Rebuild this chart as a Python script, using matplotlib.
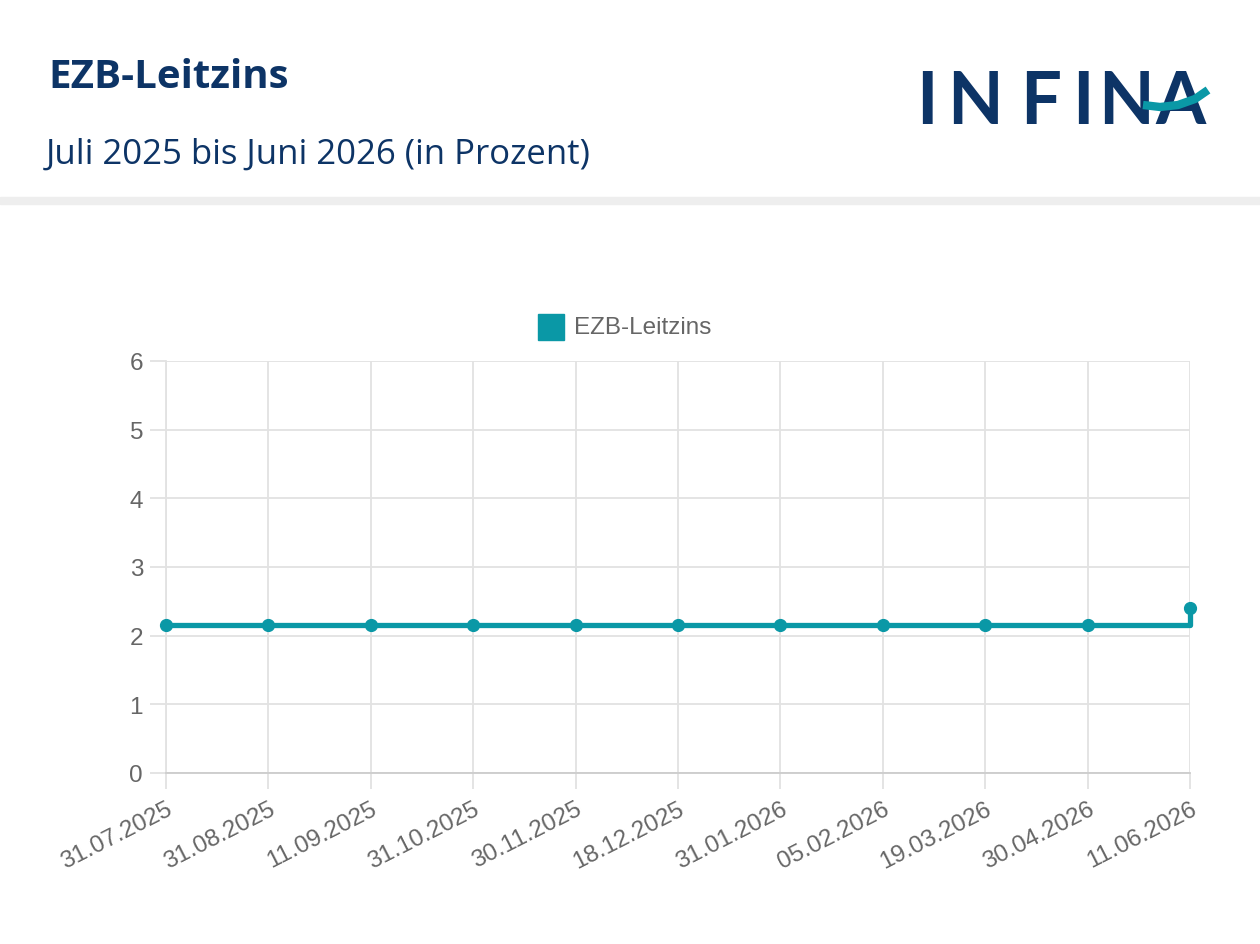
import matplotlib.pyplot as plt
from matplotlib.patches import Rectangle

# Daten
dates = ["31.07.2025", "31.08.2025", "11.09.2025", "31.10.2025", "30.11.2025",
         "18.12.2025", "31.01.2026", "05.02.2026", "19.03.2026", "30.04.2026",
         "11.06.2026"]
rates = [2.15, 2.15, 2.15, 2.15, 2.15, 2.15, 2.15, 2.15, 2.15, 2.15, 2.40]
yticks = [0, 1, 2, 3, 4, 5, 6]

navy = "#0d3466"
teal = "#0a98a6"
grid = "#e2e2e2"
label_grey = "#666666"

plt.rcParams['font.family'] = ['Liberation Sans', 'DejaVu Sans']

fig = plt.figure(figsize=(12.6, 9.45), dpi=100)

# Kopfbereich
fig.text(48 / 1260, 1 - 78 / 945, "EZB-Leitzins", color=navy, fontsize=29,
         fontweight="bold", family="Open Sans", va="center", ha="left")
fig.text(46 / 1260, 1 - 155 / 945, "Juli 2025 bis Juni 2026 (in Prozent)", color=navy,
         fontsize=25, family="Open Sans", va="center", ha="left")
fig.patches.append(Rectangle((0, 1 - 205 / 945), 1, 7 / 945, transform=fig.transFigure,
                             color="#eeeeee", zorder=0))

# Logo (Buchstaben einzeln wegen Sperrung)
for ch, cx in zip("INFINA", [927, 975, 1041, 1083, 1126, 1180]):
    fig.text(cx / 1260, 1 - 104 / 945, ch, color=navy, fontsize=52, family="Lato",
             fontweight="bold", va="center", ha="center")
sx = [1143 / 1260, 1160 / 1260, 1178 / 1260, 1195 / 1260, 1208 / 1260]
sy = [1 - 106 / 945, 1 - 108 / 945, 1 - 106 / 945, 1 - 100 / 945, 1 - 91 / 945]
fig.lines.append(plt.Line2D(sx, sy, transform=fig.transFigure, color=teal, lw=6,
                            solid_capstyle="butt", zorder=5))

# Diagramm
ax = fig.add_axes([166 / 1260, 1 - 774 / 945, 1024 / 1260, 412 / 945])
x = list(range(len(dates)))
ax.plot(x, rates, drawstyle="steps-post", color=teal, lw=3.8, zorder=3, clip_on=False)
ax.plot(x, rates, "o", color=teal, ms=8.5, zorder=4, clip_on=False)

ax.set_xlim(0, len(dates) - 1)
ax.set_ylim(0, 6)
ax.set_yticks(yticks)
ax.set_xticks(x)
ax.set_xticklabels(dates, rotation=27, ha="right", rotation_mode="anchor")
ax.grid(True, color=grid, lw=1.3)
ax.set_axisbelow(True)
for s in ["top", "right"]:
    ax.spines[s].set_visible(False)
ax.spines["left"].set_color(grid)
ax.spines["bottom"].set_color("#cccccc")
ax.spines["left"].set_linewidth(1.3)
ax.spines["bottom"].set_linewidth(1.3)
ax.tick_params(axis="both", length=11.5, width=1.3, color=grid, labelsize=17.5,
               labelcolor=label_grey)
ax.tick_params(axis="x", pad=6)
ax.tick_params(axis="y", pad=5)

# Legende
fig.patches.append(Rectangle((538 / 1260, 1 - 341 / 945), 26 / 1260, 26 / 945,
                             transform=fig.transFigure, color=teal))
fig.text(574 / 1260, 1 - 328 / 945, "EZB-Leitzins", color=label_grey, fontsize=17.5,
         va="center", ha="left")

fig.savefig("out.png", dpi=100)
